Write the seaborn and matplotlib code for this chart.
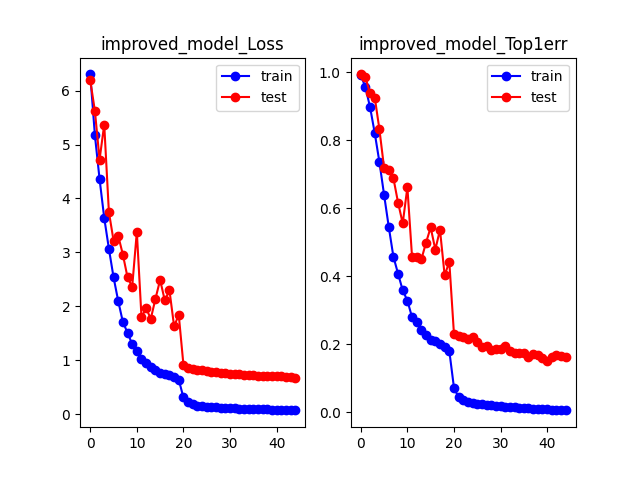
import numpy as np
import pandas as pd
import matplotlib
matplotlib.use("Agg")
import matplotlib.pyplot as plt
import seaborn as sns

# values (45 epochs)
epochs = list(range(45))

loss_train = [6.30, 5.17, 4.36, 3.64, 3.07, 2.54, 2.10, 1.71, 1.51, 1.30,
              1.17, 1.02, 0.95, 0.88, 0.81, 0.77, 0.75, 0.72, 0.69, 0.64,
              0.31, 0.22, 0.18, 0.16, 0.15, 0.14, 0.13, 0.13, 0.12, 0.12,
              0.11, 0.11, 0.10, 0.10, 0.10, 0.09, 0.09, 0.09, 0.09, 0.08,
              0.08, 0.08, 0.08, 0.08, 0.07]
loss_test = [6.19, 5.62, 4.72, 5.37, 3.75, 3.22, 3.31, 2.96, 2.54, 2.36,
             3.38, 1.80, 1.96, 1.77, 2.14, 2.49, 2.11, 2.30, 1.63, 1.84,
             0.92, 0.85, 0.83, 0.82, 0.81, 0.80, 0.79, 0.78, 0.77, 0.76,
             0.75, 0.74, 0.74, 0.73, 0.72, 0.72, 0.71, 0.71, 0.71, 0.70,
             0.70, 0.70, 0.69, 0.69, 0.68]

err_train = [0.991, 0.955, 0.896, 0.820, 0.735, 0.639, 0.545, 0.457, 0.407, 0.358,
             0.328, 0.279, 0.264, 0.242, 0.228, 0.212, 0.210, 0.200, 0.190, 0.180,
             0.072, 0.043, 0.036, 0.031, 0.028, 0.025, 0.023, 0.022, 0.020, 0.019,
             0.018, 0.016, 0.015, 0.014, 0.013, 0.012, 0.011, 0.010, 0.009, 0.008,
             0.008, 0.007, 0.006, 0.006, 0.005]
err_test = [0.993, 0.984, 0.937, 0.925, 0.831, 0.718, 0.713, 0.688, 0.616, 0.555,
            0.661, 0.457, 0.455, 0.449, 0.498, 0.543, 0.478, 0.536, 0.402, 0.442,
            0.230, 0.225, 0.220, 0.215, 0.220, 0.205, 0.190, 0.195, 0.182, 0.185,
            0.185, 0.195, 0.180, 0.175, 0.175, 0.175, 0.163, 0.171, 0.167, 0.158,
            0.151, 0.161, 0.168, 0.166, 0.161]

fig, axes = plt.subplots(1, 2, figsize=(6.4, 4.8), dpi=100)

panels = [("improved_model_Loss", loss_train, loss_test),
          ("improved_model_Top1err", err_train, err_test)]

for ax, (title, tr, te) in zip(axes, panels):
    sns.lineplot(x=epochs, y=tr, ax=ax, color="blue", marker="o", label="train",
                 linewidth=1.5, markeredgecolor="blue", markeredgewidth=1.0, markersize=6)
    sns.lineplot(x=epochs, y=te, ax=ax, color="red", marker="o", label="test",
                 linewidth=1.5, markeredgecolor="red", markeredgewidth=1.0, markersize=6)
    ax.set_title(title)
    ax.legend(loc="upper right")

fig.savefig("out.png", dpi=100)
